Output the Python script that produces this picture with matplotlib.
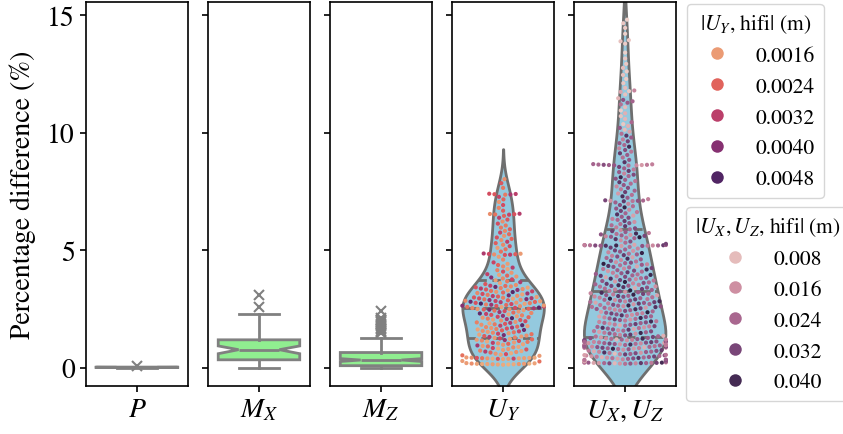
import numpy as np
import matplotlib
matplotlib.use('Agg')
import matplotlib.pyplot as plt
from matplotlib.lines import Line2D
from matplotlib.colors import Normalize
import seaborn as sns

plt.rcParams['font.family'] = 'STIXGeneral'
plt.rcParams['mathtext.fontset'] = 'stix'

# ---- box plots (percentage difference, %) ----
box_labels = ['$P$', '$M_X$', '$M_Z$']
box_whislo = [0.0, 0.0, 0.0]
box_q1 = [0.01, 0.34, 0.09]
box_med = [0.02, 0.77, 0.33]
box_q3 = [0.03, 1.19, 0.65]
box_whishi = [0.04, 2.28, 1.28]
box_cilo = [0.015, 0.60, 0.27]
box_cihi = [0.025, 0.93, 0.39]
box_fliers = [[0.06],
              [2.57, 3.10],
              [1.46, 1.52, 1.58, 1.64, 1.70, 1.76, 1.82, 1.88, 1.95, 2.00, 2.05, 2.10, 2.42]]

# ---- U_Y: percentage difference (x100) and |U_Y, hifi| (x1e-4 m) ----
uy_pct_x100 = [
    13, 14, 14, 15, 15, 16, 16, 16, 17, 17, 18, 18, 19, 20, 27, 29,
    37, 38, 38, 39, 39, 40, 40, 41, 41, 42, 42, 43, 43, 44,
    51, 53, 56, 58, 60, 62, 65, 67, 69, 71, 73, 76, 78, 80, 82, 84, 87, 89, 91, 93, 95, 98,
    100, 102, 104, 106, 108, 110, 112, 114, 116, 118, 119, 121, 123,
    125, 127, 129, 131, 133, 135, 137, 139, 141, 143, 145, 147, 149,
    151, 153, 155, 157, 159, 161, 163, 165, 167, 169, 171, 173,
    175, 177, 179, 181, 183, 185, 187, 189, 191, 193, 195, 198,
    201, 203, 205, 207, 209, 211, 213, 215, 217, 219, 221, 223, 225,
    227, 229, 231, 233, 235, 237, 239, 241, 243, 245, 247, 248, 249,
    250, 251, 253, 254, 255, 256, 258, 259, 260, 262, 263, 264, 265, 267, 268, 269, 271, 272, 273,
    275, 276, 277, 279, 280, 281, 283, 284, 285, 287, 288, 289, 291, 292, 294, 295, 296, 298, 299,
    301, 303, 305, 306, 308, 310, 312, 314, 316, 318, 320, 322, 323, 325,
    327, 329, 331, 333, 335, 337, 339, 341, 342, 344, 346, 348, 349,
    352, 356, 360, 364, 368, 372, 376, 380, 384, 388, 392, 395, 398,
    404, 409, 415, 420, 426, 431, 437, 442, 448,
    460, 472, 480, 481, 482, 483, 484, 485, 486, 494,
    504, 510, 517, 523, 530, 536, 543, 548,
    554, 561, 568, 575, 582, 589, 596,
    605, 613, 622, 630, 638, 646,
    651, 652, 653, 654, 655, 668, 680, 692,
    705, 716, 727, 736, 737, 738, 739, 740,
    765, 785, 802,
]
uy_hifi_1e4 = [
    14, 15, 13, 16, 14, 15, 17, 14, 16, 15, 13, 18, 15, 16, 22, 16,
    15, 26, 16, 14, 30, 17, 15, 22, 16, 27, 15, 18, 14, 16,
    16, 22, 15, 28, 17, 14, 24, 18, 33, 15, 20, 16, 26, 17, 14, 30, 19, 15, 23, 16, 36, 17,
    15, 24, 18, 32, 16, 21, 14, 27, 19, 38, 16, 23, 15,
    29, 17, 20, 33, 16, 25, 18, 42, 15, 22, 30, 17, 19,
    22, 16, 30, 18, 25, 44, 15, 20, 27, 17, 35, 19,
    23, 16, 31, 46, 18, 21, 26, 15, 33, 20, 17, 28,
    18, 26, 15, 34, 21, 48, 17, 24, 29, 16, 38, 20, 27,
    15, 31, 45, 19, 23, 36, 17, 28, 22, 16, 42, 25, 18,
    17, 24, 35, 19, 28, 46, 15, 22, 31, 18, 26, 40, 16, 23, 37, 20, 29, 15, 49,
    21, 27, 17, 33, 24, 44, 16, 30, 19, 25, 38, 18, 22, 41, 15, 28, 34, 20, 26,
    16, 25, 32, 18, 42, 21, 15, 28, 36, 19, 24, 47, 17, 30,
    22, 16, 39, 26, 18, 33, 20, 15, 27, 44, 19, 23, 31,
    18, 26, 15, 34, 21, 16, 29, 19, 40, 17, 24, 15, 31,
    17, 28, 20, 15, 33, 19, 24, 16, 30,
    19, 16, 27, 32, 18, 25, 29, 16, 34, 22,
    22, 16, 28, 19, 25, 31, 18, 24,
    27, 17, 23, 30, 19, 25, 21,
    21, 28, 18, 26, 32, 24,
    30, 22, 27, 18, 33, 25, 20, 28,
    17, 24, 30, 21, 35, 26, 32, 28,
    21, 26, 18,
]

# ---- U_X, U_Z: percentage difference (x100) and |U_X, U_Z, hifi| (mm) ----
uxz_pct_x100 = [
    17, 18, 18, 19, 19, 19, 20, 20, 20, 20, 21, 21, 21, 22, 22, 22, 23, 23,
    27, 28, 30, 31, 33, 34, 35, 36, 38, 39, 40, 41, 42, 43, 44, 45, 46, 47, 48, 49,
    50, 52, 53, 54, 55, 57, 58, 59, 60, 62, 63, 64, 65, 67, 68, 69, 70, 72, 73, 75, 77, 79,
    80, 81, 82, 83, 84, 85, 86, 87, 88, 89, 90, 91, 92, 93, 94, 95, 96, 97, 98, 99,
    100, 101, 102, 103, 104, 105, 106, 107, 108, 109, 110, 111, 112, 113, 114, 115, 116, 117, 118, 119,
    120, 121, 122, 123, 124, 125, 126, 85, 95, 105, 115, 100, 110, 120, 90,
    127, 129, 131, 133, 134, 136, 138, 140, 141, 143, 145, 146, 148, 149,
    151, 153, 155, 156, 158, 160, 162, 163, 165, 167, 169, 170, 172, 174,
    176, 177, 179, 181, 183, 184, 186, 188, 190, 191, 193, 195, 197, 198,
    201, 203, 205, 206, 208, 210, 212, 214, 216, 218, 219, 221, 223, 225,
    227, 229, 231, 232, 234, 236, 238, 240, 242, 244, 245, 247, 249,
    250, 252, 253, 255, 256, 258, 259, 261, 262, 264, 265, 267, 268, 270, 271, 273,
    274, 276, 277, 279, 280, 282, 283, 285, 286, 288, 289, 291, 292, 294, 296, 298,
    300, 302, 303, 305, 306, 308, 309, 311, 312, 314, 315, 317, 319, 321,
    323, 325, 327, 329, 331, 333, 335, 337, 339, 341, 343, 345, 346, 348, 349,
    351, 353, 355, 357, 359, 361, 363, 365, 367, 369, 371, 373, 375,
    377, 379, 381, 383, 385, 387, 389, 391, 393, 395, 397, 399,
    402, 404, 406, 409, 411, 413, 415, 418, 420, 422, 424,
    427, 429, 431, 433, 436, 438, 440, 442, 445, 447, 449,
    452, 455, 458, 461, 464, 467, 470, 473, 476, 479, 482, 485, 488, 491, 494, 497, 499,
    503, 507, 511, 514, 518, 518, 519, 519, 519, 520, 520, 520, 520, 521, 521, 521, 522, 522, 523,
    527, 532, 537, 542, 547,
    551, 553, 555, 557, 559, 561, 563, 565, 567, 569, 571, 573,
    577, 581, 585, 589, 593, 597,
    602, 606, 611, 615, 620, 624, 629, 633, 638, 642, 647,
    652, 657, 662, 667, 672, 677, 682, 687, 692, 697,
    703, 708, 709, 710, 710, 711, 712, 717, 723, 729, 735, 741, 747,
    753, 759, 765, 771, 777, 783, 789, 794, 799,
    804, 810, 815, 821, 826, 832, 837, 843, 848,
    854, 860, 861, 861, 862, 862, 863, 863, 864, 865, 866, 874, 884, 894,
    905, 912, 919, 926, 933, 940, 947,
    955, 963, 971, 979, 987, 995,
    1004, 1012, 1020, 1028, 1036, 1044, 1058, 1070, 1082, 1094,
    1108, 1120, 1127, 1133, 1139, 1146, 1162, 1173, 1176, 1179, 1190,
    1210, 1228, 1245, 1260, 1275, 1292, 1315, 1340,
    1378, 1388, 1393, 1420, 1445, 1465, 1480,
]
uxz_hifi_mm = [
    22, 15, 28, 9, 31, 18, 24, 36, 14, 26, 20, 33, 12, 27, 17, 40, 23, 19,
    29, 8, 25, 16, 34, 21, 27, 18, 26, 13, 30, 22, 37, 16, 24, 10, 28, 20, 33, 15,
    24, 17, 29, 13, 21, 34, 19, 26, 8, 31, 22, 15, 38, 27, 18, 25, 11, 30, 20, 35, 16, 28,
    23, 42, 14, 26, 19, 33, 21, 10, 29, 24, 17, 36, 22, 13, 27, 31, 18, 25, 20, 39,
    15, 28, 23, 32, 17, 26, 12, 30, 21, 35, 18, 24, 29, 14, 37, 22, 27, 16, 33, 19,
    25, 9, 28, 23, 40, 17, 30, 21, 26, 15, 31, 20, 24, 19, 27,
    27, 14, 33, 22, 25, 10, 30, 18, 36, 23, 16, 28, 41, 20,
    26, 13, 31, 21, 24, 17, 35, 29, 12, 27, 22, 38, 15, 25,
    19, 32, 24, 11, 28, 20, 34, 16, 26, 23, 30, 18, 40, 21,
    20, 28, 15, 34, 23, 26, 41, 18, 30, 12, 25, 22, 37, 16,
    29, 21, 33, 19, 27, 44, 14, 24, 31, 20, 26, 17, 39,
    27, 19, 33, 24, 14, 38, 22, 29, 17, 26, 42, 21, 31, 15, 25, 36,
    20, 28, 12, 34, 23, 18, 40, 27, 30, 16, 24, 35, 21, 43, 26, 19,
    22, 30, 17, 36, 25, 13, 28, 42, 20, 33, 24, 18, 39, 27,
    15, 31, 21, 44, 26, 19, 34, 23, 11, 29, 37, 22, 16, 32, 27,
    40, 20, 25, 35, 18, 30, 24, 43, 14, 28, 21, 33, 26,
    17, 38, 23, 29, 12, 31, 19, 36, 25, 41, 22, 27,
    28, 19, 35, 23, 14, 31, 26, 40, 21, 17, 33,
    24, 29, 12, 38, 22, 27, 18, 43, 25, 30, 16,
    21, 32, 17, 27, 39, 24, 13, 30, 19, 35, 26, 22, 42, 18, 28, 15, 33,
    25, 18, 34, 22, 29, 14, 38, 27, 20, 31, 24, 41, 17, 28, 22, 35, 19, 26, 12,
    33, 23, 30, 16, 37,
    25, 21, 44, 28, 18, 32, 26, 15, 29, 22, 40, 20,
    27, 34, 17, 24, 31, 19,
    36, 23, 22, 29, 16, 35, 24, 19, 31, 27, 13,
    38, 25, 20, 33, 17, 28, 42, 23, 30, 18,
    26, 36, 21, 15, 29, 24, 32, 19, 27, 39, 22, 14, 34,
    25, 20, 30, 17, 28, 23, 36, 21, 26,
    29, 41, 24, 31, 18, 27, 35, 20, 26,
    33, 22, 17, 28, 14, 26, 20, 30, 24, 19, 25, 37, 28, 22,
    27, 35, 21, 30, 18, 40, 24,
    28, 33, 19, 27, 37, 22,
    12, 8, 28, 10, 6, 24, 9, 7, 10, 5,
    8, 22, 27, 25, 29, 9, 7, 12, 6, 18, 8,
    6, 5, 7, 5, 8, 6, 6, 4,
    5, 7, 6, 4, 5, 6, 4,
]

uy_legend = [0.0016, 0.0024, 0.0032, 0.0040, 0.0048]
uxz_legend = [0.008, 0.016, 0.024, 0.032, 0.040]

uy = np.array(uy_pct_x100) / 100.0
uy_hifi = np.array(uy_hifi_1e4) * 1e-4
uxz = np.array(uxz_pct_x100) / 100.0
uxz_hifi = np.array(uxz_hifi_mm) * 1e-3

flare = sns.color_palette('flare', as_cmap=True)
chelix = sns.cubehelix_palette(as_cmap=True)
uy_norm = (uy_hifi.min(), uy_hifi.max())
uxz_norm = (uxz_hifi.min(), uxz_hifi.max())

fig, axes = plt.subplots(1, 5, sharey=True, figsize=(8.43, 4.35), dpi=100)
fig.subplots_adjust(left=0.102, right=0.802, bottom=0.110, top=0.993, wspace=0.198)

line_kw = dict(color='gray', linewidth=2)
for i in range(3):
    st = dict(med=box_med[i], q1=box_q1[i], q3=box_q3[i], whislo=box_whislo[i],
              whishi=box_whishi[i], cilo=box_cilo[i], cihi=box_cihi[i], fliers=box_fliers[i])
    axes[i].bxp([st], positions=[0], widths=0.8, capwidths=0.4, shownotches=True, patch_artist=True,
                boxprops=dict(facecolor='lightgreen', edgecolor='gray', linewidth=2),
                whiskerprops=line_kw, capprops=line_kw, medianprops=line_kw,
                flierprops=dict(marker='x', markeredgecolor='gray', markersize=7, markeredgewidth=1.5))


def violin_swarm(ax, vals, hue, cmap, norm):
    n0 = len(ax.lines)
    sns.violinplot(y=vals, ax=ax, color='skyblue', inner='quart', linecolor='gray', linewidth=2)
    # longer dashes for quartiles, almost solid median
    for k, ln in enumerate(ax.lines[n0:]):
        ln.set_linestyle((0, (6, 1.5)) if k == 1 else (0, (3, 2)))
    sns.swarmplot(y=vals, hue=hue, palette=cmap, hue_norm=norm, size=3.0, linewidth=0.6,
                  edgecolor='none', ax=ax, legend=False)


violin_swarm(axes[3], uy, uy_hifi, flare, uy_norm)
violin_swarm(axes[4], uxz, uxz_hifi, chelix, uxz_norm)

xlabels = box_labels + ['$U_Y$', '$U_X, U_Z$']
for ax, lab in zip(axes, xlabels):
    ax.set_xlim(-0.5, 0.5)
    ax.set_xticks([0])
    ax.set_xticklabels([lab])
    ax.set_xlabel('')
    ax.set_ylabel('')
    ax.tick_params(labelsize=20, length=4.5, width=1.2)
    for s in ax.spines.values():
        s.set_linewidth(1.2)

axes[0].set_ylim(-0.78, 15.55)
axes[0].set_yticks([0, 5, 10, 15])
axes[0].set_ylabel('Percentage difference (%)', fontsize=20, labelpad=8)


def handles(cmap, lims, values):
    norm = Normalize(*lims)
    return [Line2D([], [], marker='o', linestyle='', markersize=9, markeredgewidth=0,
                   markerfacecolor=cmap(norm(v))) for v in values]


fig.legend(handles(flare, uy_norm, uy_legend), ['%.4f' % v for v in uy_legend],
           title=r'$|U_Y$, hifi$|$ (m)', loc='upper left', bbox_to_anchor=(0.815, 0.989),
           borderaxespad=0, fontsize=15.5, title_fontsize=15.5)
fig.legend(handles(chelix, uxz_norm, uxz_legend), ['%.3f' % v for v in uxz_legend],
           title=r'$|U_X, U_Z$, hifi$|$ (m)', loc='upper left', bbox_to_anchor=(0.814, 0.522),
           borderaxespad=0, fontsize=15.5, title_fontsize=15.5)

fig.savefig('out.png', dpi=100)
